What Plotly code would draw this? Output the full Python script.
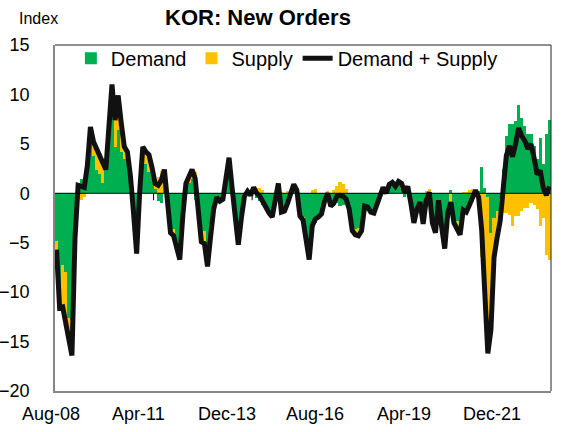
import pandas as pd
import plotly.graph_objects as go

# Monthly observations, Aug-2008 .. Dec-2021
months = pd.date_range("2008-08-01", "2021-12-01", freq="MS").strftime("%b-%y").tolist()

demand = [
    -4.8, -10.8, -7.3, -8.0, -12.6, -12.8, -4.0, 1.0, 1.4, 1.0,
    2.5, 5.0, 3.8, 2.4, 2.0, 1.0, 2.4, 5.0, 7.6, 4.7,
    6.4, 4.2, 3.5, 3.0, 0.8, -1.8, -5.5, 0.5, 3.0, 3.0,
    2.2, 1.5, 0.4, -0.8, -1.0, 1.0, -1.0, -3.8, -3.6, -4.8,
    -6.2, -2.2, 0.5, 1.0, 1.4, -0.7, -1.4, -4.2, -3.8, -6.8,
    -4.0, -1.4, -0.4, -0.8, -0.6, 1.3, 2.4, 0.3, -2.5, -4.6,
    -2.5, -0.3, 0.0, -0.2, 0.2, -0.5, -0.8, -1.2, -1.5, -2.0,
    -2.4, -0.5, 0.6, -2.0, -1.8, -1.2, 0.0, 0.6, 0.2, -2.0,
    -2.4, -4.4, -6.5, -3.6, -3.0, -2.2, -1.8, -0.8, -0.2, -1.3,
    -1.3, -1.0, -1.3, -1.2, -1.0, -1.6, -3.8, -3.6, -3.5, -3.5,
    -1.3, -1.4, -1.9, -2.0, -1.1, -0.2, 0.4, 0.0, 0.7, 0.7,
    0.5, 1.0, 0.4, -0.4, 0.2, -0.8, -2.8, -1.6, -0.9, -2.8,
    -0.9, -0.3, -2.8, -3.6, -0.7, -3.2, -5.0, -1.8, 0.3, -2.5,
    -2.8, -3.9, -1.8, -2.0, -1.5, -0.9, 0.0, 0.2, 2.7, 0.5,
    -0.4, -4.0, -2.5, -1.8, -0.6, 2.5, 5.8, 7.0, 7.0, 7.3,
    8.9, 7.6, 6.8, 6.0, 6.0, 4.8, 3.5, 5.6, 3.0, 6.0,
    7.4,
]

supply = [
    -0.9, -0.8, -4.2, -5.1, -2.5, -3.6, -0.5, -0.2, -0.7, -0.4,
    0.3, 1.7, 1.4, 2.1, 2.0, 2.2, 0.0, 1.7, 3.4, 2.7,
    3.5, 2.9, 1.2, 1.2, 0.9, -0.2, -0.6, -0.3, 1.7, 1.2,
    1.7, 1.1, 0.6, 1.6, 2.3, 1.4, -0.2, -0.2, -0.7, -0.6,
    -0.5, 0.0, 0.5, 0.7, 1.0, 2.2, -0.2, -0.7, -1.3, -0.6,
    -0.4, -0.2, 0.0, 0.0, 0.0, 0.0, 1.2, 0.2, -0.1, -0.6,
    0.0, 0.0, 0.2, 0.0, 0.4, 0.5, 0.5, 0.3, 0.0, 0.0,
    0.0, 0.0, 0.4, 0.1, 0.0, 0.2, 0.2, 0.3, 0.1, -0.3,
    -0.3, -0.2, -0.2, 0.3, 0.4, -0.2, -0.3, 0.0, 0.2, 0.0,
    0.3, 0.7, 1.1, 0.9, 0.4, 0.0, 0.0, -0.6, -0.8, -0.3,
    0.0, 0.0, 0.0, 0.0, 0.0, 0.0, 0.2, 0.0, 0.2, 0.4,
    0.2, 0.2, 0.6, 0.5, 0.5, -0.2, -0.2, 0.0, 0.0, -0.3,
    0.2, 0.4, -0.2, -0.4, 0.0, -0.2, -0.6, -0.2, -1.2, -0.5,
    -0.9, -0.3, 0.1, 0.1, 0.3, 0.4, 0.3, -0.6, -6.4, -10.5,
    -15.8, -9.8, -4.0, -2.7, -2.2, -2.0, -2.0, -2.2, -3.3, -2.3,
    -2.3, -1.8, -1.5, -1.5, -1.0, -1.2, -1.6, -3.3, -2.5, -6.2,
    -6.7,
]

total = [round(d + s, 2) for d, s in zip(demand, supply)]

axis_labels = ["Aug-08", "Apr-11", "Dec-13", "Aug-16", "Apr-19", "Dec-21"]
LABEL_EVERY = 32  # months between category labels

FONT = "Liberation Sans, Arial, sans-serif"
GREEN = "#00B050"
YELLOW = "#FFC000"

fig = go.Figure()
fig.add_trace(go.Bar(x=months, y=demand, name="Demand",
                     marker=dict(color=GREEN, line=dict(width=0))))
fig.add_trace(go.Bar(x=months, y=supply, name="Supply",
                     marker=dict(color=YELLOW, line=dict(width=0))))
fig.add_trace(go.Scatter(x=months, y=total, name="Demand + Supply", mode="lines",
                         line=dict(color="#111111", width=5)))

# category labels along the bottom, evenly spaced
label_start, label_step = -0.009, 0.178
annotations = [
    dict(text=lab, x=label_start + k * label_step, y=-0.066, xref="paper", yref="paper",
         xanchor="center", yanchor="middle", showarrow=False,
         font=dict(family=FONT, size=18, color="black"))
    for k, lab in enumerate(axis_labels)
]
annotations.append(dict(text="Index", x=-0.034, y=1.078, xref="paper", yref="paper",
                        xanchor="center", yanchor="middle", showarrow=False,
                        font=dict(family=FONT, size=16, color="black")))

shapes = [
    # horizontal axis line through zero
    dict(type="line", xref="paper", yref="y", x0=0, x1=1, y0=0, y1=0,
         line=dict(color="black", width=1), layer="above"),
    # top and right edges of the plot frame
    dict(type="line", xref="paper", yref="paper", x0=0, x1=1, y0=1, y1=1,
         line=dict(color="#222222", width=1)),
    dict(type="line", xref="paper", yref="paper", x0=1, x1=1, y0=0, y1=1,
         line=dict(color="#222222", width=1)),
]
# small tick marks hanging from the zero line between label periods
for k in range(1, len(axis_labels) - 1):
    xb = k * LABEL_EVERY - 0.5
    shapes.append(dict(type="line", xref="x", yref="y", x0=xb, x1=xb, y0=0, y1=-0.7,
                       line=dict(color="black", width=1), layer="below"))

fig.update_layout(
    width=581, height=432,
    margin=dict(l=55, r=30, t=45, b=41, autoexpand=False),
    paper_bgcolor="white", plot_bgcolor="white",
    barmode="relative", bargap=0,
    title=dict(text="<b>KOR: New Orders</b>", x=0.444, xanchor="center",
               y=0.96, yanchor="middle", font=dict(family=FONT, size=22, color="black")),
    legend=dict(orientation="h", x=0.032, xanchor="left", y=1.018, yanchor="top",
                bgcolor="rgba(0,0,0,0)", font=dict(family=FONT, size=20, color="black"),
                traceorder="normal"),
    annotations=annotations,
    shapes=shapes,
)
fig.update_xaxes(range=[-0.5, len(months) - 0.5], showticklabels=False, ticks="",
                 showgrid=False, zeroline=False, showline=True, linecolor="#868686",
                 linewidth=1.5, automargin=False)
fig.update_yaxes(range=[-20, 15], dtick=5, showgrid=False, zeroline=False,
                 showline=True, linecolor="#868686", linewidth=1.5, ticks="",
                 ticklabelstandoff=20, automargin=False,
                 tickfont=dict(family=FONT, size=18, color="black"))

fig.write_html("out.html")
